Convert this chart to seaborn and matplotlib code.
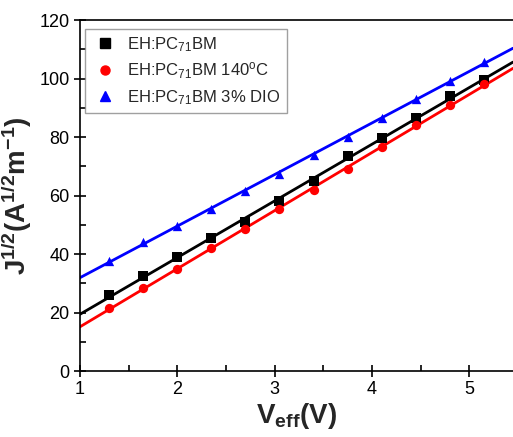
import numpy as np
import pandas as pd
import matplotlib
matplotlib.use("Agg")
import matplotlib.pyplot as plt
from matplotlib.lines import Line2D
import seaborn as sns

sns.set_style("ticks")
plt.rcParams['font.family'] = ['Liberation Sans', 'DejaVu Sans']
plt.rcParams['mathtext.fontset'] = 'custom'
plt.rcParams['mathtext.rm'] = 'Liberation Sans'
plt.rcParams['mathtext.bf'] = 'Liberation Sans:bold'
plt.rcParams['mathtext.it'] = 'Liberation Sans:italic'

v_eff = [1.3, 1.65, 2.0, 2.35, 2.7, 3.05, 3.4, 3.75, 4.1, 4.45, 4.8, 5.15]
j_base = [26, 32.5, 39, 45.5, 51, 58, 65, 73.5, 79.5, 86.5, 94, 99.5]
j_140 = [21.5, 28.5, 35, 42, 48.5, 55.5, 62, 69, 76.5, 84, 91, 98]
j_dio = [37.5, 44, 49.5, 55.5, 61.5, 67.5, 74, 80, 86.5, 93, 99, 105.5]

labels = ["EH:PC$_{71}$BM", "EH:PC$_{71}$BM 140$^{\\mathregular{o}}$C", "EH:PC$_{71}$BM 3% DIO"]
colors = ["black", "#ff0000", "#0000ff"]
markers = ["s", "o", "^"]
series = [j_base, j_140, j_dio]

fig = plt.figure(figsize=(5.13, 4.37), dpi=100)
ax = fig.add_axes([80/513, 1-371/437, 1-80/513, (371-20)/437])
ax.set_xlim(1, 1 + 433/97.3)
ax.set_ylim(0, 120)

handles = []
for ys, c, m, lab in zip(series, colors, markers, labels):
    df = pd.DataFrame({"x": v_eff, "y": ys})
    sns.regplot(data=df, x="x", y="y", ax=ax, scatter=False, ci=None, truncate=False,
                line_kws=dict(color=c, lw=2, zorder=2))
    sns.scatterplot(data=df, x="x", y="y", ax=ax, color=c, marker=m, s=45,
                    edgecolor=c, linewidth=0, zorder=3)
    handles.append(Line2D([], [], color=c, marker=m, linestyle='none', markersize=6.5, label=lab))

ax.set_xlim(1, 1 + 433/97.3)
ax.set_ylim(0, 120)
ax.set_xticks([1, 2, 3, 4, 5])
ax.set_xticks(np.arange(1.5, 5.5, 1.0), minor=True)
ax.set_yticks(np.arange(0, 121, 20))
ax.set_yticks(np.arange(10, 120, 20), minor=True)
ax.tick_params(which='major', direction='inout', length=8, width=1.2, labelsize=13, colors='black')
ax.tick_params(which='minor', direction='in', length=4, width=1.2, colors='black')
for s in ['left', 'bottom', 'top']:
    ax.spines[s].set_linewidth(1.2)
    ax.spines[s].set_color('black')
ax.spines['right'].set_visible(False)

ax.set_xlabel("V$_{\\mathbf{eff}}$(V)", fontsize=20, fontweight='bold', labelpad=2)
ax.set_ylabel("J$^{\\mathbf{1/2}}$(A$^{\\mathbf{1/2}}$m$^{\\mathbf{-1}}$)", fontsize=20, fontweight='bold', labelpad=4)

leg = ax.legend(handles=handles, loc='upper left', bbox_to_anchor=(0.005, 0.985), fontsize=12,
                frameon=True, fancybox=False, edgecolor='#888888', handletextpad=0.5,
                labelspacing=0.4, borderpad=0.4, handlelength=1.6, borderaxespad=0.2)
leg.get_frame().set_linewidth(1.0)

fig.savefig("out.png", dpi=100)
